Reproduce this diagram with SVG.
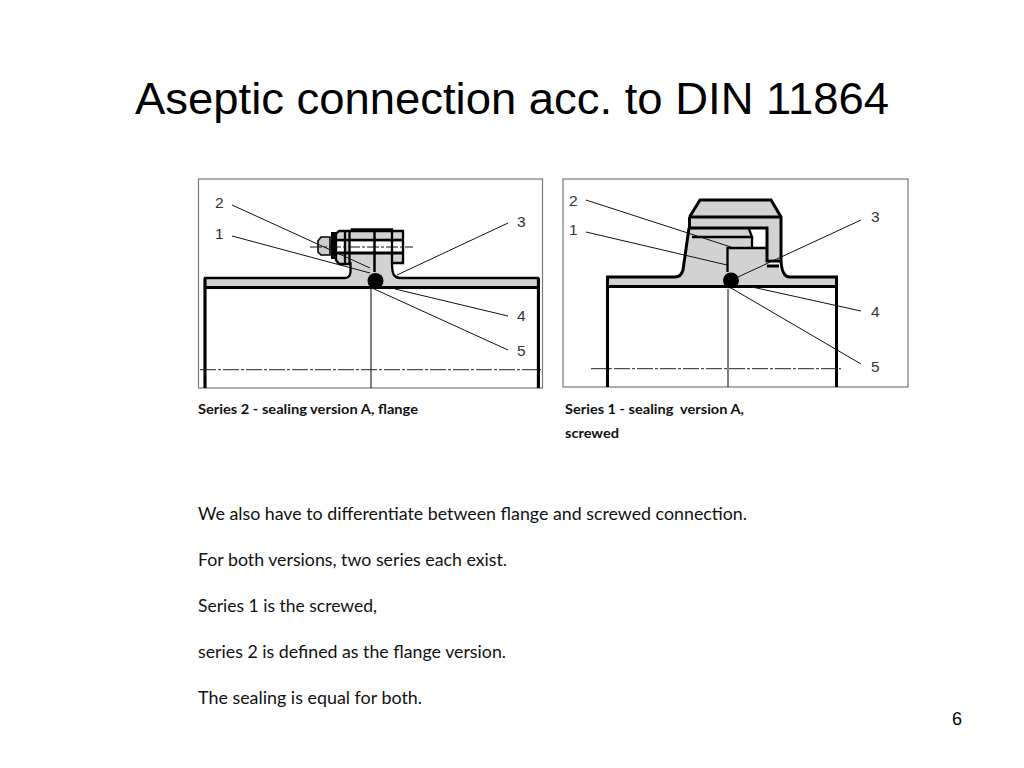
<svg xmlns="http://www.w3.org/2000/svg" width="1024" height="768" viewBox="0 0 1024 768">
<style>
.frame{fill:#fff;stroke:#777;stroke-width:1.2}
.t{fill:none;stroke:#000;stroke-width:3}
.m{fill:none;stroke:#000;stroke-width:2.300}
.l{fill:none;stroke:#111;stroke-width:1}
.c{fill:none;stroke:#222;stroke-width:1;stroke-dasharray:16 2 3 2}
.g{fill:#d2d2d2}
.n{font-family:"Liberation Sans",Arial,sans-serif;font-size:15.5px;fill:#333}
.cap{font-family:Lato,"Open Sans",sans-serif;font-size:14px;font-weight:700;fill:#111}
.b{font-family:Lato,"Open Sans",sans-serif;font-size:18px;fill:#111}
</style>
<rect width="1024" height="768" fill="#fff"/>
<text id="title" x="135" y="114" font-family="'Liberation Sans',Arial,sans-serif" font-size="44.5" fill="#000" textLength="754" lengthAdjust="spacingAndGlyphs">Aseptic connection acc. to DIN 11864</text>
<g id="figure-left">
<rect class="frame" x="198.500" y="179" width="344" height="209"/>
<path class="g" d="M205 278H345Q350 278 350.500 272V229H392V265Q393 278 400 278H538V287H205Z"/>
<path class="g" d="M336 231H403V264H336Z"/>
<rect x="350" y="242" width="53" height="10" fill="#fff"/>
<rect x="336" y="242" width="10" height="10" fill="#fff"/>
<g id="bolt">
<path class="m" d="M352 232V229.500H392V232M339 264L336 260V234L339 231H403V263H392M339 264H350M337 240H403M345 232V264M349.500 232V264M392 232V263"/>
<path d="M336 253H403" stroke="#000" stroke-width="3"/>
<path d="M330 237H321L318 241V252L321 255H330Z" fill="#ccc" stroke="#000" stroke-width="1.6"/>
<path d="M334 232V259" stroke="#000" stroke-width="6"/>
<path class="l" d="M310 247H413" stroke-dasharray="12 2 3 2"/>
</g>
<path class="m" d="M205 388V278H345Q350 278 350.500 272V262M392 263Q392 272 394 275Q396 278 400 278H538V388"/>
<path d="M204 287.500H539" stroke="#000" stroke-width="3" fill="none"/>
<path class="t" d="M205 278V388M538.500 278V388"/>
<path d="M374.500 229V272" stroke="#000" stroke-width="2.500"/>
<path d="M371 288V388" stroke="#000" stroke-width="1"/>
<circle cx="375.500" cy="281" r="8" fill="#000"/>
<path class="c" d="M200 369.700H541"/>
<path class="l" d="M232 205L370 268M232 236L370 273M508 223L397 275M508 316L395 289M508 350L372 288"/>
<g class="n"><text x="215" y="208">2</text><text x="215" y="239">1</text><text x="517" y="227">3</text><text x="517" y="321">4</text><text x="517" y="356">5</text></g>
</g>
<g id="figure-right">
<rect class="frame" x="563" y="179" width="345" height="208"/>
<path class="g" d="M608 277H675Q681 277 683 270L690 226H767V255L778 262Q780 277 788 277H836V286H608Z"/>
<path class="g" d="M690 217L700 200H771L781 217V262H767V227H690Z"/>
<path fill="#fff" d="M750 228H767V247H752Z"/>
<path d="M767 259H780V265H767Z" fill="#fff"/>
<path class="t" d="M607.500 387V277H675Q681 277 683 270L689 228M689.500 217L700 200H771L781 217V258Q781 277 790 277H836.500V387M689.500 217V228M689 217H781M690 228H767V261H780M767 266H779"/>
<path class="m" d="M692 237H752L749 229M752 237V247M727.500 272V248H767"/>
<path d="M607 286.500H838" stroke="#000" stroke-width="3" fill="none"/>
<path d="M728 289V387" stroke="#000" stroke-width="1"/>
<circle cx="731" cy="280.500" r="8" fill="#000"/>
<path class="c" d="M591 368.700H841"/>
<path class="l" d="M586 200L731 247M586 232L727 265M861 220L738 277M861 311L752 287M861 364L731 288"/>
<g class="n"><text x="569" y="206">2</text><text x="569" y="235">1</text><text x="871" y="222">3</text><text x="871" y="317">4</text><text x="871" y="372">5</text></g>
</g>
<g id="captions">
<text class="cap" x="198" y="414" textLength="220" lengthAdjust="spacingAndGlyphs">Series 2 - sealing version A, flange</text>
<text class="cap" x="565" y="414" textLength="179" lengthAdjust="spacingAndGlyphs" xml:space="preserve">Series 1 - sealing  version A,</text>
<text class="cap" x="565" y="438" textLength="54" lengthAdjust="spacingAndGlyphs">screwed</text>
</g>
<g id="body">
<text class="b" x="198" y="520" textLength="549" lengthAdjust="spacingAndGlyphs">We also have to differentiate between flange and screwed connection.</text>
<text class="b" x="198" y="566" textLength="309" lengthAdjust="spacingAndGlyphs">For both versions, two series each exist.</text>
<text class="b" x="198" y="612" textLength="179" lengthAdjust="spacingAndGlyphs">Series 1 is the screwed,</text>
<text class="b" x="198" y="658" textLength="308" lengthAdjust="spacingAndGlyphs">series 2 is defined as the flange version.</text>
<text class="b" x="198" y="704" textLength="224" lengthAdjust="spacingAndGlyphs">The sealing is equal for both.</text>
</g>
<text id="page" x="952" y="725" font-family="'Liberation Sans',Arial,sans-serif" font-size="18" fill="#000">6</text>
</svg>
